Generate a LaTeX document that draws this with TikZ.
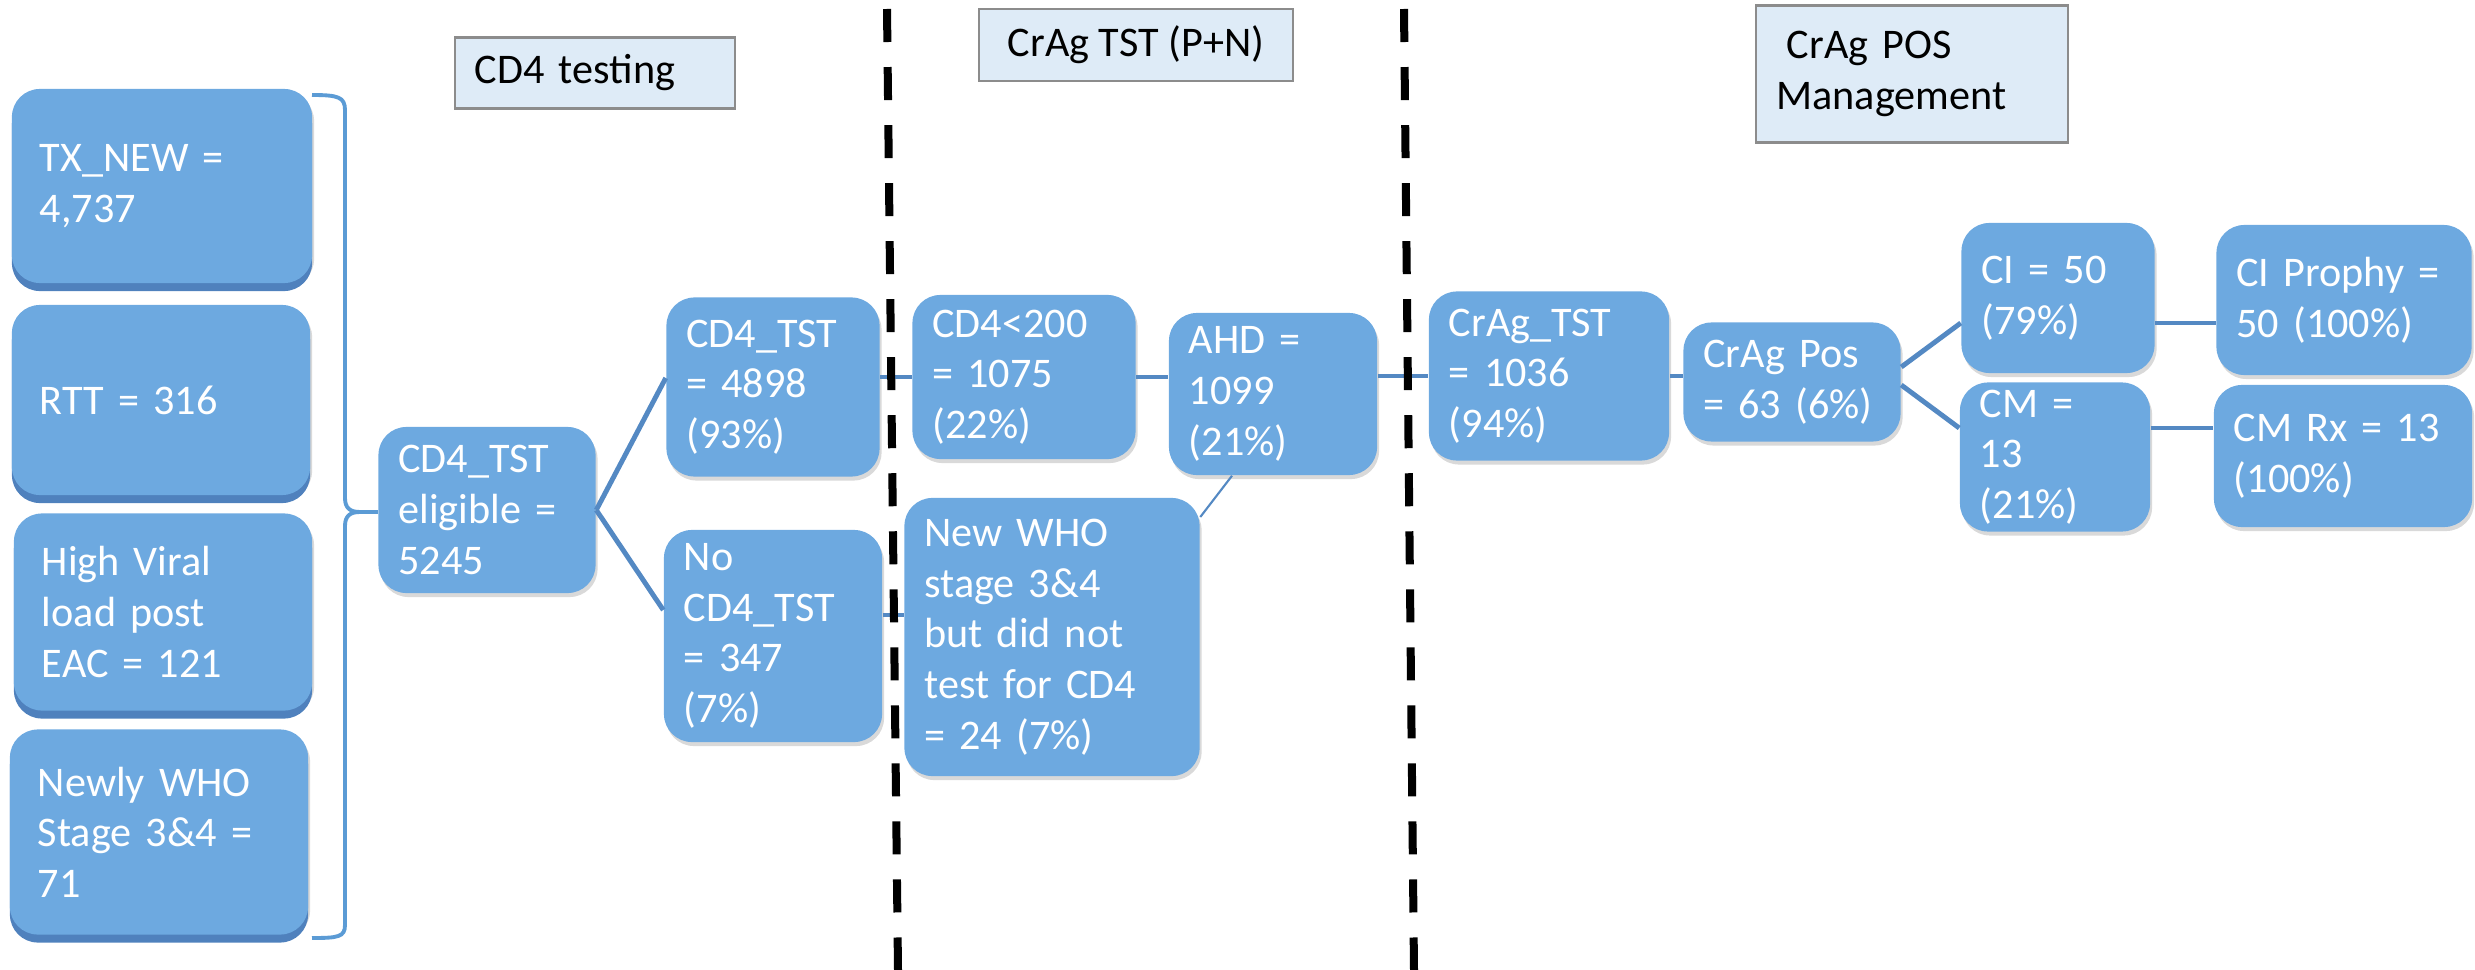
\documentclass[tikz,border=0pt]{standalone}
\usepackage{fontspec}
\setmainfont{Carlito}
\usetikzlibrary{shadows}
\definecolor{boxblue}{RGB}{109,169,224}
\definecolor{boxdark}{RGB}{79,129,189}
\definecolor{linkblue}{RGB}{84,137,195}
\definecolor{bracecol}{RGB}{91,155,213}
\definecolor{headfill}{RGB}{222,235,247}

\begin{document}
\begin{tikzpicture}[x=0.01cm, y=-0.01cm,
  stat/.style={fill=boxblue, rounded corners=0.28cm, text=white, align=left,
    inner xsep=0.2cm, inner ysep=0pt, font=\fontsize{12pt}{14.4pt}\selectfont,
    drop shadow={shadow xshift=0.02cm, shadow yshift=-0.04cm, opacity=0.3}},
  stack/.style={stat, inner xsep=0.28cm, general shadow={fill=boxdark, shadow yshift=-0.08cm}},
  head/.style={fill=headfill, draw=black!45, line width=0.6pt, align=left,
    inner xsep=0.2cm, font=\fontsize{12pt}{14.4pt}\selectfont},
  link/.style={draw=linkblue, line width=1.4pt},
  divider/.style={line width=0.08cm, dash pattern=on 0.33cm off 0.25cm}]
  \useasboundingbox (0,0) rectangle (2475,970);

  % Section headers
  \node[head, text width=2.4cm, minimum height=0.71cm] (hcd) at (595,73) {CD4 testing};
  \node[head, align=center, minimum width=3.13cm, minimum height=0.72cm] (htst) at (1136,45) {CrAg TST (P+N)};
  \node[head, text width=2.71cm, minimum height=1.37cm] (hpos) at (1912,74) {\hspace*{3pt}CrAg POS\\Management};

  % Entry groups
  \node[stack, text width=2.44cm, minimum height=1.94cm] (tx) at (162,186) {TX\_NEW =\\4,737};
  \node[stack, text width=2.42cm, minimum height=1.9cm] (rtt) at (161,400) {RTT = 316};
  \node[stack, text width=2.42cm, minimum height=1.97cm] (hvl) at (163,612) {High Viral\\load post\\EAC = 121};
  \node[stack, text width=2.42cm, minimum height=2.05cm] (who) at (159,832) {Newly WHO\\Stage 3\&4 =\\71};

  % CD4 testing
  \node[stat, text width=1.77cm, minimum height=1.66cm] (elig) at (487,510) {CD4\_TST\\eligible =\\5245};
  \node[stat, text width=1.73cm, minimum height=1.79cm] (cdtst) at (773,387) {CD4\_TST\\= 4898\\(93\%)};
  \node[stat, text width=1.78cm, minimum height=2.12cm] (nocd) at (773,636) {No\\CD4\_TST\\= 347\\(7\%)};

  % CrAg TST
  \node[stat, text width=1.83cm, minimum height=1.64cm] (low) at (1024,377) {CD4<200\\= 1075\\(22\%)};
  \node[stat, text width=1.68cm, minimum height=1.62cm] (ahd) at (1273,394) {AHD =\\1099\\(21\%)};
  \node[stat, text width=2.55cm, minimum height=2.78cm] (newwho) at (1052,637) {New WHO\\stage 3\&4\\but did not\\test for CD4\\= 24 (7\%)};

  % CrAg POS management
  \node[stat, text width=2.0cm, minimum height=1.69cm] (crag) at (1549,376) {CrAg\_TST\\= 1036\\(94\%)};
  \node[stat, text width=1.77cm, minimum height=1.19cm] (pos) at (1792,382) {CrAg Pos\\= 63 (6\%)};
  \node[stat, text width=1.53cm, minimum height=1.5cm] (ci) at (2058,298) {CI = 50\\(79\%)};
  \node[stat, text width=1.5cm, minimum height=1.49cm] (cm) at (2055,457) {CM =\\13\\(21\%)};
  \node[stat, text width=2.15cm, minimum height=1.5cm] (ciproph) at (2344,300) {CI Prophy =\\50 (100\%)};
  \node[stat, text width=2.18cm, minimum height=1.42cm] (cmrx) at (2343,456) {CM Rx = 13\\(100\%)};

  % Bracket round the entry groups
  \coordinate (bt) at (360,512);
  \draw[bracecol, line width=1.1pt] (312,95) .. controls (338,95) and (345,97) .. (345,110)
    -- (345,498) .. controls (345,508) and (350,512) .. (bt)
    .. controls (350,512) and (345,516) .. (345,526)
    -- (345,925) .. controls (345,937) and (338,938) .. (312,938);
  \draw[bracecol, line width=1.1pt] (bt) -- (elig.west |- bt);

  % Connectors
  \draw[link] (elig.east) -- (cdtst.west |- 0,378);
  \draw[link] (elig.east) -- (nocd.west |- 0,610);
  \draw[link] (nocd.east |- 0,615) -- (newwho.west |- 0,615);
  \draw[link] (low.west -| cdtst.east) -- (low.west);
  \draw[link] (low.east) -- (low.east -| ahd.west);
  \draw[link] (crag.west -| ahd.east) -- (crag.west);
  \draw[link] (crag.east) -- (crag.east -| pos.west);
  \draw[link] (pos.east |- 0,367) -- (ci.west |- 0,323);
  \draw[link] (pos.east |- 0,385) -- (cm.west |- 0,428);
  \draw[link] (ci.east |- 0,323) -- (ciproph.west |- 0,323);
  \draw[link] (cm.east |- 0,428) -- (cmrx.west |- 0,428);
  \draw[linkblue, line width=0.6pt] (newwho.east |- 0,517) -- (ahd.south -| 1232,0);

  % Section dividers
  \draw[divider] (887,9) -- (898,970);
  \draw[divider] (1404,9) -- (1414,970);
\end{tikzpicture}
\end{document}
